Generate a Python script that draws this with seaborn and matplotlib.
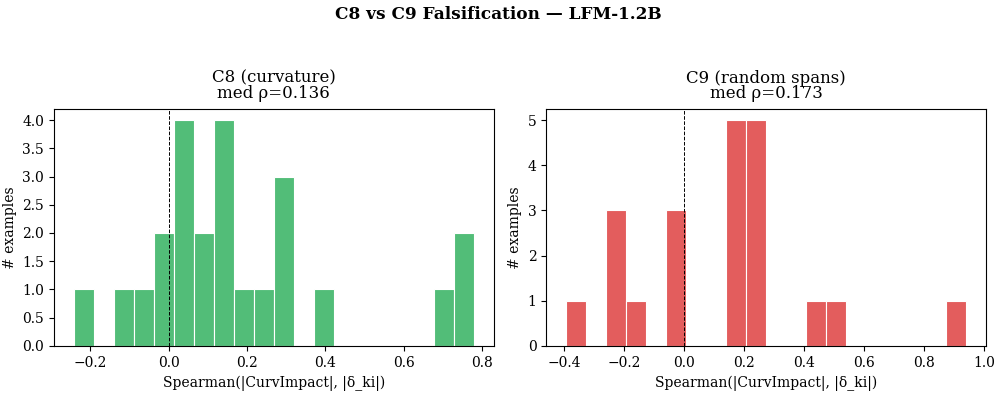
import matplotlib
matplotlib.use("Agg")
import matplotlib.pyplot as plt
from matplotlib.ticker import MultipleLocator
import numpy as np
import seaborn as sns

plt.rcParams["font.family"] = ["DejaVu Serif"]

# Spearman rho por exemplo
rho_c8 = [-0.242, -0.118, -0.061, -0.021, 0.004,
          0.022, 0.035, 0.048, 0.057, 0.078, 0.101,
          0.131, 0.141, 0.150, 0.158, 0.189, 0.242,
          0.276, 0.291, 0.305, 0.398, 0.702, 0.751, 0.778]
rho_c9 = [-0.394, -0.245, -0.228, -0.210, -0.162,
          -0.048, -0.030, -0.012,
          0.150, 0.161, 0.173, 0.185, 0.197,
          0.214, 0.228, 0.240, 0.252, 0.265,
          0.440, 0.505, 0.940]

painel = [
    ("C8 (curvature)", rho_c8, "#52bd78", 0.5),
    ("C9 (random spans)", rho_c9, "#e35d5d", 1),
]

fig, axes = plt.subplots(1, 2, figsize=(9.96, 3.93), dpi=100)
fig.subplots_adjust(left=0.054, right=0.990, bottom=0.12, top=0.723, wspace=0.12)

for ax, (nome, vals, cor, passo) in zip(axes, painel):
    sns.histplot(x=vals, bins=20, color=cor, edgecolor="white", alpha=1.0,
                 linewidth=0.8, ax=ax)
    ax.axvline(0, color="black", linestyle="--", linewidth=0.7)
    ax.set_title(f"{nome}\nmed ρ={np.median(vals):.3f}", fontsize=12,
                 linespacing=0.85, pad=8)
    ax.set_xlabel("Spearman(|CurvImpact|, |δ_ki|)", fontsize=10)
    ax.set_ylabel("# examples", fontsize=10)
    ax.yaxis.set_major_locator(MultipleLocator(passo))
    ax.tick_params(labelsize=10)

fig.suptitle("C8 vs C9 Falsification — LFM-1.2B", fontsize=12.2, fontweight="bold", y=0.985)
fig.savefig("out.png", dpi=100)
